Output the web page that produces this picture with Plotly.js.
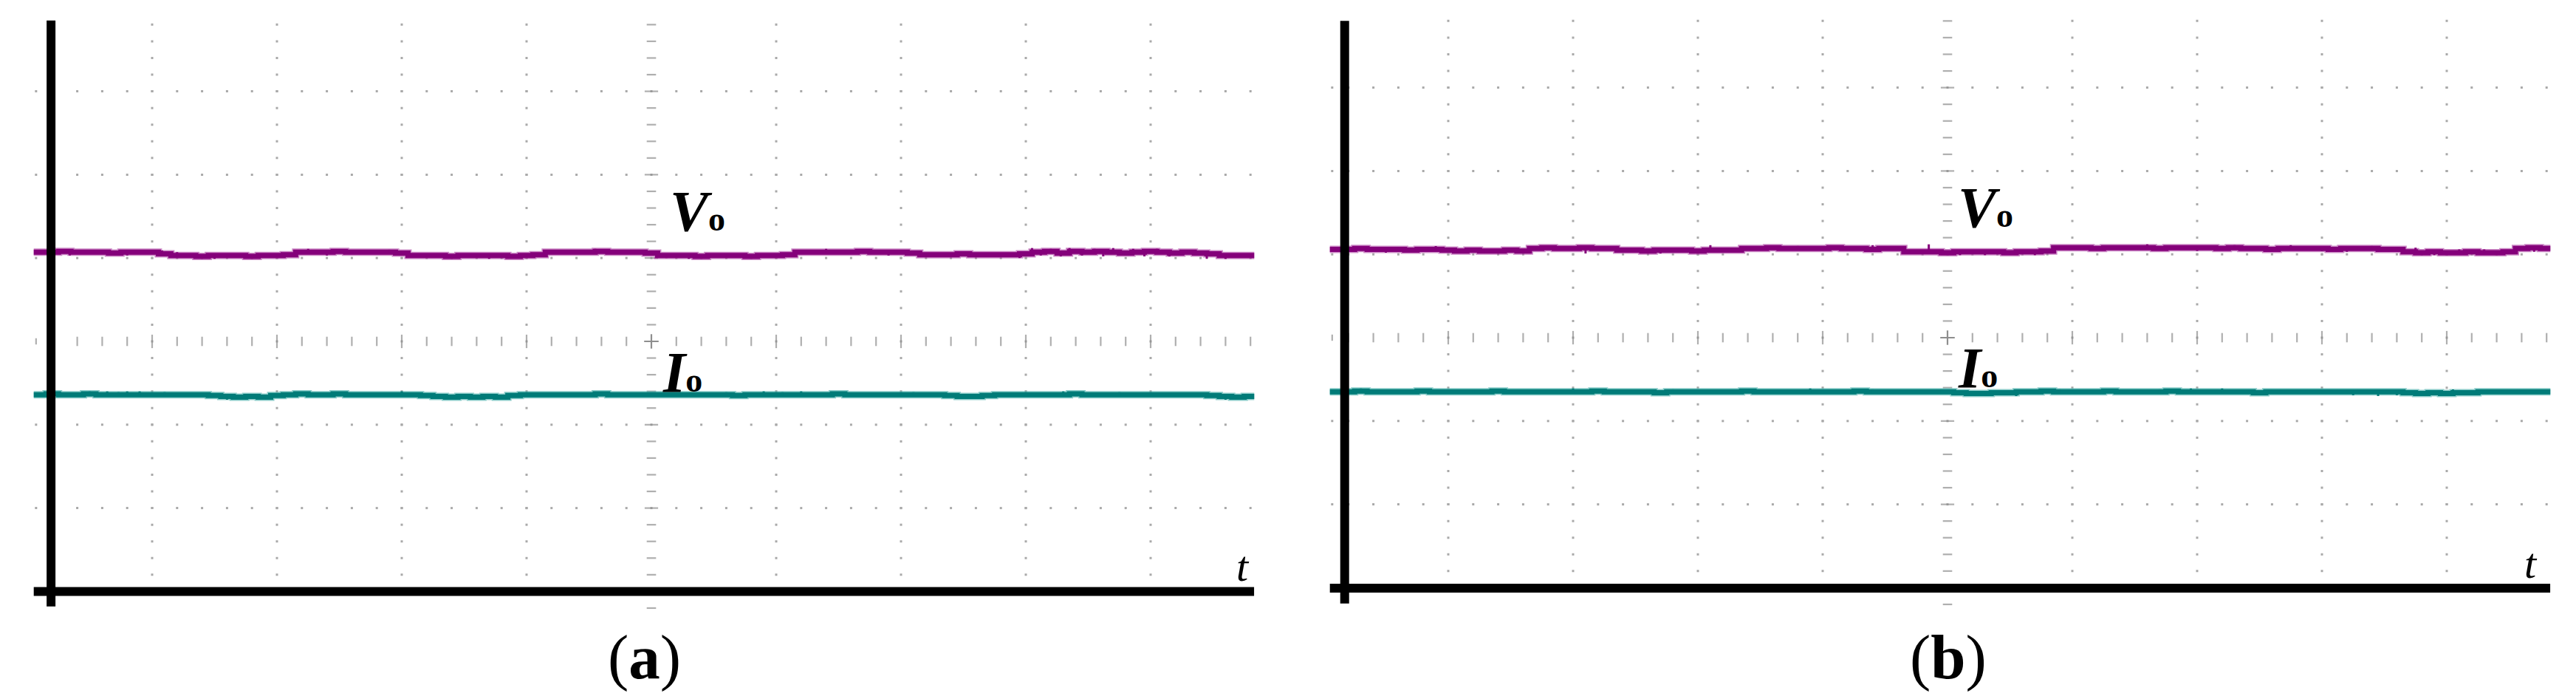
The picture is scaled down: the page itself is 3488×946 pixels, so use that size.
<!DOCTYPE html>
<html><head><meta charset="utf-8">
<script src="https://cdn.plot.ly/plotly-3.0.1.min.js"></script>
<style>html,body{margin:0;padding:0;background:#fff;}#chart{width:3488px;height:946px;}</style>
</head><body><div id="chart"></div>
<script>
// ---------- DATA (horizontal unit: time divisions, vertical unit: divisions) ----------
const tStart = -4.95, tStep = 0.1, nSamples = 99;
const timeDiv = Array.from({length: nSamples}, (_, i) => +(tStart + i * tStep).toFixed(2));

// Panel (a) output voltage Vo
const voA = [1.07,1.07,1.08,1.07,1.07,1.07,1.06,1.07,1.07,1.07,
  1.05,
  1.03,1.03,1.02,1.03,1.03,1.03,1.02,1.03,1.03,1.04,
  1.07,1.07,1.07,1.08,1.07,1.07,1.07,1.07,1.06,
  1.03,1.03,1.03,1.02,1.03,1.03,1.03,1.03,1.02,1.03,1.04,
  1.07,1.07,1.07,1.07,1.08,1.07,1.07,1.07,1.06,
  1.03,1.03,1.03,1.02,1.03,1.03,1.03,1.02,1.03,1.03,1.04,
  1.07,1.07,1.07,1.07,1.07,1.08,1.07,1.07,1.07,1.06,
  1.04,1.04,1.04,1.05,1.04,1.04,1.04,1.04,1.05,
  1.07,1.08,1.06,1.08,1.07,1.08,1.07,1.06,1.07,1.08,1.07,1.06,1.07,1.06,1.05,
  1.03,1.03,1.03,1.03];
// Panel (a) output current Io
const ioA = [-0.64,-0.63,-0.64,-0.64,-0.63,-0.64,-0.64,-0.64,-0.64,-0.64,
  -0.64,-0.64,-0.64,-0.64,-0.65,-0.66,-0.67,-0.66,-0.67,-0.65,
  -0.64,-0.63,-0.64,-0.64,-0.63,-0.64,-0.64,-0.64,-0.64,-0.64,
  -0.64,-0.65,-0.66,-0.67,-0.66,-0.67,-0.66,-0.67,-0.65,-0.64,
  -0.64,-0.64,-0.64,-0.64,-0.64,-0.63,-0.64,-0.64,-0.64,-0.64,
  -0.64,-0.64,-0.64,-0.64,-0.64,-0.64,-0.65,-0.64,-0.64,-0.64,
  -0.64,-0.64,-0.64,-0.64,-0.63,-0.64,-0.64,-0.64,-0.64,-0.64,
  -0.64,-0.64,-0.64,-0.65,-0.66,-0.66,-0.65,-0.64,-0.64,-0.64,
  -0.64,-0.64,-0.64,-0.63,-0.64,-0.64,-0.64,-0.64,-0.64,-0.64,
  -0.64,-0.64,-0.64,-0.64,-0.65,-0.66,-0.67,-0.66,-0.66];
// Panel (b) output voltage Vo
const voB = [1.06,1.06,1.07,1.06,1.06,1.06,1.05,1.06,1.06,
  1.05,1.04,1.05,1.04,1.04,1.05,1.04,
  1.07,1.08,1.07,1.07,1.08,1.07,1.07,
  1.05,1.05,1.04,1.05,1.05,1.05,1.04,1.05,1.05,1.05,
  1.07,1.07,1.08,1.07,1.07,1.07,1.07,1.08,1.07,1.07,1.06,1.07,1.07,
  1.03,1.03,1.03,1.02,1.03,1.03,1.03,1.03,1.02,1.03,1.03,1.04,
  1.08,1.08,1.08,1.07,1.08,1.08,1.08,1.08,1.07,1.08,1.08,1.08,1.08,1.07,1.08,
  1.07,1.07,1.06,1.07,1.07,1.07,1.07,1.06,1.07,1.07,1.07,1.06,1.06,
  1.03,1.02,1.03,1.02,1.02,1.03,1.02,1.02,1.03,
  1.07,1.08,1.07,1.08];
// Panel (b) output current Io
const ioB = [-0.65,-0.65,-0.64,-0.65,-0.65,-0.65,-0.65,-0.64,-0.65,-0.65,
  -0.65,-0.65,-0.65,-0.64,-0.65,-0.65,-0.65,-0.65,-0.65,-0.65,
  -0.65,-0.64,-0.65,-0.65,-0.65,-0.65,-0.66,-0.65,-0.65,-0.65,
  -0.65,-0.65,-0.65,-0.64,-0.65,-0.65,-0.65,-0.65,-0.65,-0.65,
  -0.65,-0.65,-0.64,-0.65,-0.65,-0.65,-0.65,-0.65,-0.65,-0.65,
  -0.66,-0.67,-0.67,-0.66,-0.66,-0.65,-0.65,-0.64,-0.65,-0.65,
  -0.65,-0.65,-0.64,-0.65,-0.65,-0.65,-0.65,-0.64,-0.65,-0.65,
  -0.65,-0.65,-0.65,-0.65,-0.66,-0.65,-0.65,-0.65,-0.65,-0.65,
  -0.65,-0.65,-0.65,-0.65,-0.65,-0.65,-0.66,-0.67,-0.66,-0.67,
  -0.66,-0.66,-0.65,-0.65,-0.65,-0.65,-0.65,-0.65,-0.65];

// Noise spikes (time, tip value)
const voASpikeT = [-4.66,-4.2,-3.92,-3.8,-3.5,-2.75,-2.6,-2.1,-1.3,-0.45,0.12,0.3,1.4,1.9,2.1,2.95,3.05,3.12,3.2,3.28,3.35,3.45,3.55,3.62,3.7,3.78,3.86,3.95,4.05,4.15,4.3,4.45,4.6];
const voASpikeV = [1.03,1.03,1.09,1.07,0.99,1.11,1.03,1.10,0.99,1.11,1.00,0.99,1.11,1.03,1.08,1.00,1.12,1.03,1.11,1.02,1.12,1.03,1.11,1.02,1.12,1.03,1.11,1.02,1.11,1.02,1.10,0.99,0.99];
const ioASpikeT = [-4.5,-4.36,-4.27,-4.2,-4.1,-3.9,-3.4,-3.25,-3.1,-2.0,-1.7,-1.55,-1.4,0.6,0.9,1.05,1.2,2.1,3.3,3.75,4.6,4.7];
const ioASpikeV = [-0.60,-0.60,-0.61,-0.60,-0.60,-0.61,-0.70,-0.69,-0.70,-0.60,-0.69,-0.70,-0.69,-0.61,-0.60,-0.61,-0.60,-0.61,-0.60,-0.61,-0.70,-0.69];
const voBSpikeT = [-4.5,-4.1,-3.7,-3.3,-2.9,-2.3,-1.9,-1.2,-0.6,-0.3,-0.15,0.1,0.3,0.5,0.7,1.1,1.6,2.0,2.3,2.6,2.75,3.0,3.2,3.4,3.55,3.75,3.9,4.1,4.3,4.55,4.7];
const voBSpikeV = [1.02,1.10,1.01,1.09,1.01,1.01,1.11,1.10,1.11,1.02,1.12,0.99,0.99,1.00,0.99,1.07,1.12,1.04,1.11,1.03,1.11,1.04,1.03,1.10,1.06,1.08,0.99,1.06,1.06,1.03,1.03];
const ioBSpikeT = [-4.7,-3.8,-3.0,-2.2,-1.1,-0.6,-0.05,0.08,0.3,0.55,0.9,1.7,1.95,2.2,3.25,3.45,3.6,3.75,3.9,4.05];
const ioBSpikeV = [-0.61,-0.62,-0.61,-0.62,-0.61,-0.62,-0.62,-0.69,-0.70,-0.70,-0.62,-0.62,-0.61,-0.61,-0.69,-0.70,-0.69,-0.70,-0.69,-0.62];

// ---------- LAYOUT GEOMETRY ----------
const W = 3488, H = 946;
const divX = 169, divY = 112.8;
const xr = [-4.95, 4.83], yr = [-3.25, 3.95];
const panelGeo = [
  {cx: 882, cy: 462, vAxisX: -4.81, vAxisTop: 3.85, vAxisBot: -3.18, hAxisY: -3.0,
   vLab: [906, 312], iLab: [896, 530], tLab: [1673, 787], cap: [872, 918], capText: '(<b>a</b>)'},
  {cx: 2637, cy: 457, vAxisX: -4.83, vAxisTop: 3.80, vAxisBot: -3.19, hAxisY: -3.005,
   vLab: [2650, 307], iLab: [2650, 524], tLab: [3417, 783], cap: [2638, 918], capText: '(<b>b</b>)'}
];
const series = [
  {vo: voA, io: ioA, voST: voASpikeT, voSV: voASpikeV, ioST: ioASpikeT, ioSV: ioASpikeV},
  {vo: voB, io: ioB, voST: voBSpikeT, voSV: voBSpikeV, ioST: ioBSpikeT, ioSV: ioBSpikeV}
];

const purple = '#84007a', purpleGlow = 'rgba(170,60,160,0.6)';
const teal = '#007b78', tealGlow = 'rgba(60,170,165,0.6)';
const dotColor = '#a9a9a9', markColor = '#8e8e8e';

const traces = [], shapes = [], annotations = [];
const layout = {
  width: W, height: H, margin: {l: 0, r: 0, t: 0, b: 0},
  paper_bgcolor: '#ffffff', plot_bgcolor: 'rgba(0,0,0,0)', showlegend: false,
  shapes: shapes, annotations: annotations
};
const serif = 'Liberation Serif, Times New Roman, serif';

function r2(v) { return Math.round(v * 100) / 100; }

panelGeo.forEach((g, p) => {
  const xa = p === 0 ? 'x' : 'x2', ya = p === 0 ? 'y' : 'y2';
  const xk = p === 0 ? 'xaxis' : 'xaxis2', yk = p === 0 ? 'yaxis' : 'yaxis2';
  layout[xk] = {domain: [(g.cx + xr[0] * divX) / W, (g.cx + xr[1] * divX) / W], range: xr.slice(),
    visible: false, fixedrange: true, anchor: ya};
  layout[yk] = {domain: [1 - (g.cy - yr[0] * divY) / H, 1 - (g.cy - yr[1] * divY) / H], range: yr.slice(),
    visible: false, fixedrange: true, anchor: xa};

  // graticule dots
  const dx = [], dy = [];
  for (let gx = -4; gx <= 4; gx++) {
    if (gx === 0) continue;
    for (let k = -14; k <= 19; k++) { dx.push(gx); dy.push(r2(k * 0.2)); }
  }
  for (let gy = -2; gy <= 3; gy++) {
    if (gy === 0) continue;
    dx.push(-4.93); dy.push(gy);
    for (let k = -24; k <= 24; k++) { dx.push(r2(k * 0.2)); dy.push(gy); }
  }
  traces.push({x: dx, y: dy, xaxis: xa, yaxis: ya, mode: 'markers', hoverinfo: 'skip',
    marker: {symbol: 'square', size: 3, color: dotColor, line: {width: 0}}});
  // center vertical ticks
  const cvx = [], cvy = [], cvs = [];
  for (let k = -16; k <= 19; k++) { if (k === 0) continue; cvx.push(0); cvy.push(r2(k * 0.2)); cvs.push(k % 5 === 0 ? 13 : 9); }
  traces.push({x: cvx, y: cvy, xaxis: xa, yaxis: ya, mode: 'markers', hoverinfo: 'skip',
    marker: {symbol: 'line-ew', size: cvs, line: {width: 2.2, color: markColor}}});
  // center horizontal ticks
  const chx = [], chy = [], chs = [];
  for (let k = -24; k <= 24; k++) { if (k === 0) continue; chx.push(r2(k * 0.2)); chy.push(0); chs.push(k % 5 === 0 ? 13 : 9); }
  chx.push(-4.93); chy.push(0); chs.push(6);
  traces.push({x: chx, y: chy, xaxis: xa, yaxis: ya, mode: 'markers', hoverinfo: 'skip',
    marker: {symbol: 'line-ns', size: chs, line: {width: 2.2, color: markColor}}});
  traces.push({x: [0], y: [0], xaxis: xa, yaxis: ya, mode: 'markers', hoverinfo: 'skip',
    marker: {symbol: 'cross-thin', size: 14, line: {width: 2.2, color: markColor}}});

  // waveforms
  const s = series[p];
  const addWave = (vals, col, glow, st, sv) => {
    traces.push({x: timeDiv, y: vals, xaxis: xa, yaxis: ya, mode: 'lines', line: {shape: 'hv', width: 10, color: glow}, hoverinfo: 'skip'});
    traces.push({x: timeDiv, y: vals, xaxis: xa, yaxis: ya, mode: 'lines', line: {shape: 'hv', width: 7, color: col}, hoverinfo: 'skip'});
    const sx = [], sy = [];
    st.forEach((t, j) => {
      const idx = Math.max(0, Math.min(vals.length - 1, Math.floor((t - tStart) / tStep + 1e-9)));
      sx.push(t, t, null); sy.push(vals[idx], sv[j], null);
    });
    traces.push({x: sx, y: sy, xaxis: xa, yaxis: ya, mode: 'lines', line: {width: 3, color: col}, hoverinfo: 'skip', connectgaps: false});
  };
  addWave(s.vo, purple, purpleGlow, s.voST, s.voSV);
  addWave(s.io, teal, tealGlow, s.ioST, s.ioSV);

  // black axes (drawn above the waveforms as in the reference)
  shapes.push({type: 'line', xref: xa, yref: ya, x0: g.vAxisX, x1: g.vAxisX, y0: g.vAxisBot, y1: g.vAxisTop,
    line: {color: '#000', width: 12}, layer: 'above'});
  shapes.push({type: 'line', xref: xa, yref: ya, x0: xr[0], x1: xr[1], y0: g.hAxisY, y1: g.hAxisY,
    line: {color: '#000', width: 12}, layer: 'above'});

  // labels (pixel placement -> paper)
  const ann = (px, py, text, size, xanchor) => annotations.push({
    xref: 'paper', yref: 'paper', x: px / W, y: 1 - py / H, text: text, showarrow: false,
    xanchor: xanchor, yanchor: 'bottom', font: {family: serif, size: size, color: '#000'}, borderpad: 0});
  ann(g.vLab[0], g.vLab[1] + 0.23 * 78, '<b><i>V</i></b><b><span style="font-size:46px">o</span></b>', 78, 'left');
  ann(g.iLab[0], g.iLab[1] + 0.23 * 78, '<b><i>I</i></b><b><span style="font-size:46px">o</span></b>', 78, 'left');
  ann(g.tLab[0], g.tLab[1] + 0.23 * 58, '<i>t</i>', 58, 'left');
  ann(g.cap[0], g.cap[1] + 0.23 * 85, g.capText, 85, 'center');
});

Plotly.newPlot('chart', traces, layout, {staticPlot: true, displayModeBar: false});
</script>
</body></html>
